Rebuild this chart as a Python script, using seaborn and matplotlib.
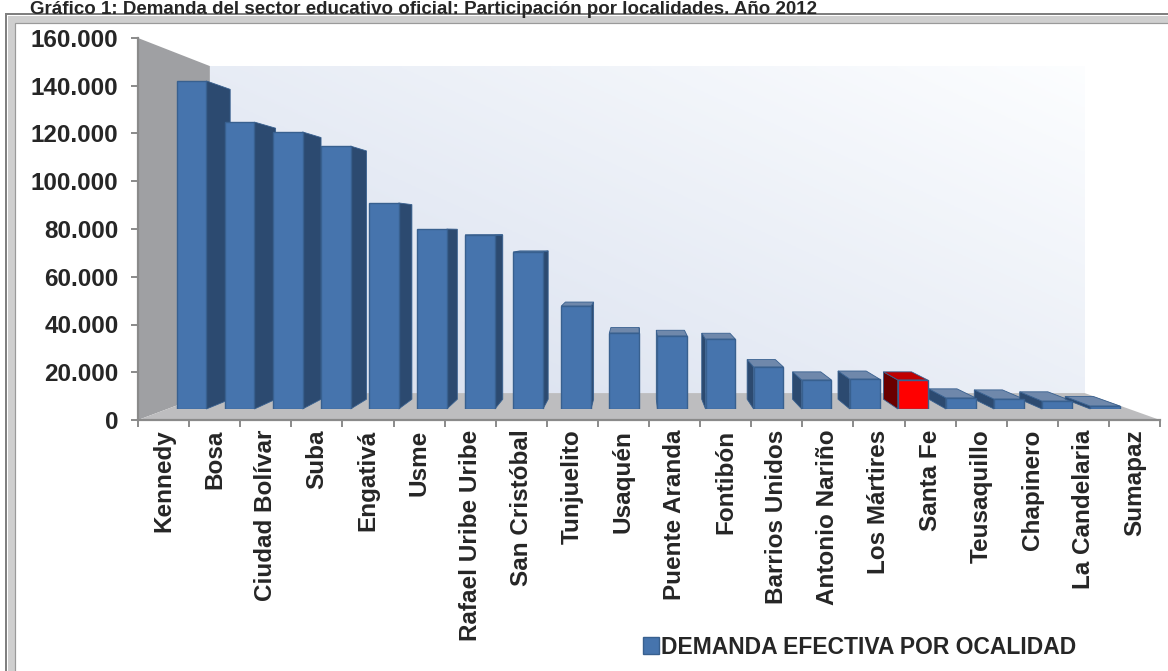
import matplotlib
matplotlib.use("Agg")
import matplotlib.pyplot as plt
import numpy as np
import seaborn as sns
from matplotlib.patches import Polygon, Patch, Rectangle
from matplotlib.ticker import FuncFormatter, FixedLocator

# data
localidades = [
    "Kennedy", "Bosa", "Ciudad Bolívar", "Suba", "Engativá", "Usme",
    "Rafael Uribe Uribe", "San Cristóbal", "Tunjuelito", "Usaquén",
    "Puente Aranda", "Fontibón", "Barrios Unidos", "Antonio Nariño",
    "Los Mártires", "Santa Fe", "Teusaquillo", "Chapinero", "La Candelaria",
    "Sumapaz",
]
demanda = [
    146000, 127700, 123300, 117000, 91700, 80100, 77400, 69900, 45800, 33800,
    32500, 31100, 18700, 12900, 13300, 12900, 4900, 4400, 3500, 1300,
]
destacada = "Santa Fe"
y_ticks = [0, 20000, 40000, 60000, 80000, 100000, 120000, 140000, 160000]
titulo = ("Gráfico 1: Demanda del sector educativo oficial: "
          "Participación por localidades. Año 2012")
leyenda = "DEMANDA EFECTIVA POR OCALIDAD"

sns.set_style("white")
plt.rcParams["font.family"] = ["Liberation Sans", "DejaVu Sans"]
plt.rcParams["font.weight"] = "bold"

W, H = 1168, 671
fig = plt.figure(figsize=(W / 100, H / 100), dpi=100)
fig.patch.set_facecolor("white")


def fx(px):
    return px / W


def fy(py):
    return 1 - py / H


# chart frame (extends past the picture on the right / bottom)
for off, lw, col in [(6, 2.0, "#808080"), (11, 7.0, "#cfcfcf"), (15, 1.2, "#9a9a9a")]:
    top_px = off + 8
    fig.patches.append(Rectangle((fx(off), fy(700)), fx(1200), fy(top_px) - fy(700),
                                 transform=fig.transFigure, fill=False, lw=lw * 0.72,
                                 edgecolor=col, zorder=0))

fig.text(fx(30), fy(1), titulo, fontsize=13.5, fontweight="bold", ha="left", va="top")

# front plane of the 3d box
L, R, T, B = 138, 1160, 38, 420
ax = fig.add_axes([fx(L), fy(B), fx(R - L), (B - T) / H])
n = len(localidades)
xlim = (-0.5, n - 0.5)
ylim = (0, 160000)
ax.set_xlim(*xlim)
ax.set_ylim(*ylim)
ax.set_facecolor("none")

# perspective: vanishing point and depth scales
VX_PX, VY_PX = 637, 233
vx = (VX_PX - L) / (R - L) * n - 0.5
vy = (B - VY_PX) / (B - T) * ylim[1]
s_floor, s_front, s_back = 0.856, 0.941, 0.889


def proj(x, y, s):
    return (vx + s * (x - vx), vy + s * (y - vy))


# back wall with a soft gradient
wx0, wy0 = proj(xlim[0], 0, s_floor)
wx1, wy1 = proj(xlim[1], ylim[1], s_floor)
gx, gy = np.meshgrid(np.linspace(0, 1, 200), np.linspace(0, 1, 120))
g = np.clip(0.55 * gx + 0.45 * gy, 0, 1)
c0 = np.array([0.84, 0.87, 0.93])
c1 = np.array([0.99, 0.995, 1.0])
img = c0[None, None, :] * (1 - g[..., None]) + c1[None, None, :] * g[..., None]
ax.imshow(img, extent=[wx0, wx1, wy0, wy1], origin="lower", aspect="auto", zorder=0)
ax.set_xlim(*xlim)
ax.set_ylim(*ylim)

# side wall and floor
side = [proj(xlim[0], ylim[1], 1), proj(xlim[0], ylim[1], s_floor),
        proj(xlim[0], 0, s_floor), proj(xlim[0], 0, 1)]
ax.add_patch(Polygon(side, closed=True, facecolor="#9fa0a3", edgecolor="none", zorder=1))
floor = [proj(xlim[0], 0, 1), proj(xlim[1], 0, 1), proj(xlim[1], 0, s_floor),
         proj(xlim[0], 0, s_floor)]
ax.add_patch(Polygon(floor, closed=True, facecolor="#bdbdbf", edgecolor="none", zorder=1))

# front faces drawn by seaborn on an axes placed on the bars' depth plane
p0 = ax.get_position()
bx0 = fx(VX_PX) + s_front * (p0.x0 - fx(VX_PX))
by0 = fy(VY_PX) + s_front * (p0.y0 - fy(VY_PX))
axb = fig.add_axes([bx0, by0, p0.width * s_front, p0.height * s_front])
axb.set_facecolor("none")

azul, azul_lado, azul_top, azul_borde = "#4674ad", "#2c4a70", "#6f88ab", "#38608f"
rojo, rojo_lado, rojo_top = "#ff0000", "#6a0000", "#c00000"
paleta = {loc: (rojo if loc == destacada else azul) for loc in localidades}
sns.barplot(x=localidades, y=demanda, hue=localidades, palette=paleta, legend=False,
            width=0.62, saturation=1, edgecolor=azul_borde, linewidth=1.0, ax=axb)
axb.set_xlim(*xlim)
axb.set_ylim(*ylim)
axb.axis("off")

# side and top faces derived from each bar
for patch, loc in zip(axb.patches, localidades):
    x0 = patch.get_x()
    x1 = x0 + patch.get_width()
    h = patch.get_height()
    lado = rojo_lado if loc == destacada else azul_lado
    tope = rojo_top if loc == destacada else azul_top
    xe = x1 if (x0 + x1) / 2 < vx else x0
    face = [proj(xe, 0, s_front), proj(xe, h, s_front), proj(xe, h, s_back), proj(xe, 0, s_back)]
    ax.add_patch(Polygon(face, closed=True, facecolor=lado, edgecolor=azul_borde,
                         lw=0.6, zorder=3))
    if h < vy:
        top = [proj(x0, h, s_front), proj(x1, h, s_front), proj(x1, h, s_back),
               proj(x0, h, s_back)]
        ax.add_patch(Polygon(top, closed=True, facecolor=tope, edgecolor=azul_borde,
                             lw=0.6, zorder=3))

# axes styling
for sp in ["top", "right"]:
    ax.spines[sp].set_visible(False)
for sp in ["left", "bottom"]:
    ax.spines[sp].set_color("#8a8a8a")
    ax.spines[sp].set_linewidth(1.6)
    ax.spines[sp].set_zorder(5)
ax.yaxis.set_major_locator(FixedLocator(y_ticks))
ax.yaxis.set_major_formatter(FuncFormatter(lambda v, p: f"{int(v):,}".replace(",", ".")))
ax.tick_params(axis="y", left=True, length=5, width=1.4, color="#8a8a8a", pad=9,
               labelsize=17.5)
ax.set_xticks(range(n))
ax.set_xticklabels(localidades, rotation=90, fontsize=17.5, fontweight="bold", va="top")
ax.set_xticks(np.arange(n + 1) - 0.5, minor=True)
ax.tick_params(axis="x", which="major", bottom=False, length=0, pad=7)
ax.tick_params(axis="x", which="minor", bottom=True, length=5, width=1.4, color="#8a8a8a")
for lab in ax.get_yticklabels():
    lab.set_fontweight("bold")

fig.legend(handles=[Patch(facecolor=azul, edgecolor=azul_borde)], labels=[leyenda],
           loc="center left", bbox_to_anchor=(fx(622), fy(647)), frameon=False,
           handlelength=0.7, handleheight=0.7, handletextpad=0.1,
           prop={"size": 16.5, "weight": "bold"})

fig.savefig("out.png", dpi=100)
